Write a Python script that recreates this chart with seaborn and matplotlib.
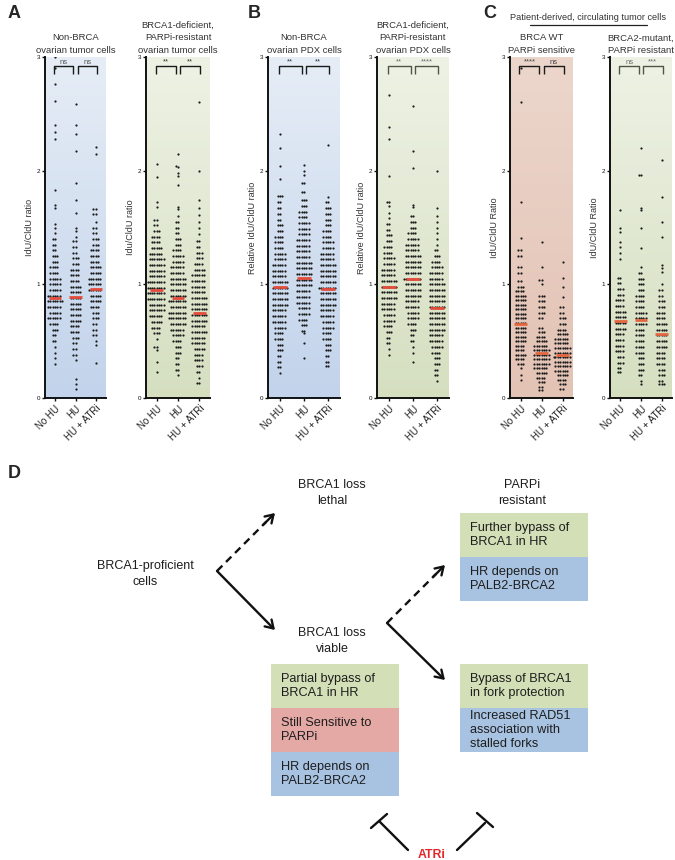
import numpy as np
import pandas as pd
import matplotlib
matplotlib.use("Agg")
import matplotlib.pyplot as plt
import seaborn as sns
from matplotlib.colors import LinearSegmentedColormap
from matplotlib.patches import Rectangle, FancyArrowPatch

CONDITIONS = ["No HU", "HU", "HU + ATRi"]

# ---- data: (IdU/CldU ratio, number of fibres at that value) ----
A1_NO_HU = [(3.00,1),(2.90,1),(2.76,1),(2.61,1),(2.40,1),(2.34,1),(2.28,1),(1.83,1),(1.70,1),(1.67,1),(1.53,1),(1.50,1),(1.45,1),(1.40,2),(1.35,2),(1.30,2),(1.25,3),(1.20,3),(1.15,4),(1.10,4),(1.05,5),(1.00,5),(0.95,5),(0.90,6),(0.85,7),(0.80,6),(0.75,5),(0.70,6),(0.65,4),(0.60,3),(0.55,2),(0.50,2),(0.45,1),(0.40,1),(0.35,1),(0.30,1)]
A1_HU = [(2.59,1),(2.40,1),(2.32,1),(2.17,1),(1.89,1),(1.74,1),(1.63,1),(1.50,1),(1.47,1),(1.42,1),(1.38,2),(1.33,2),(1.28,2),(1.23,3),(1.18,3),(1.13,4),(1.08,4),(1.03,4),(0.98,5),(0.93,5),(0.88,5),(0.83,5),(0.78,5),(0.73,5),(0.68,5),(0.63,4),(0.58,4),(0.53,3),(0.48,2),(0.43,2),(0.38,2),(0.33,1),(0.17,1),(0.12,1),(0.08,1)]
A1_HU_ATRI = [(2.21,1),(2.15,1),(1.66,2),(1.62,2),(1.55,1),(1.50,2),(1.45,2),(1.40,3),(1.35,3),(1.30,4),(1.25,4),(1.20,4),(1.15,5),(1.10,5),(1.05,6),(1.00,6),(0.95,6),(0.90,5),(0.85,5),(0.80,4),(0.75,3),(0.70,3),(0.65,2),(0.60,2),(0.55,2),(0.50,1),(0.47,1),(0.31,1)]
A1_MEANS = [0.88, 0.89, 0.96]
A1_SIG = ["ns", "ns"]

A2_NO_HU = [(2.06,1),(1.94,1),(1.72,1),(1.68,1),(1.57,2),(1.52,2),(1.47,3),(1.42,4),(1.37,4),(1.32,5),(1.27,6),(1.22,7),(1.17,7),(1.12,7),(1.07,7),(1.02,8),(0.97,8),(0.92,8),(0.87,8),(0.82,7),(0.77,7),(0.72,6),(0.67,5),(0.62,4),(0.57,3),(0.52,1),(0.45,2),(0.42,1),(0.32,1),(0.23,1)]
A2_HU = [(2.15,1),(2.04,1),(2.03,1),(1.98,1),(1.95,1),(1.87,1),(1.68,1),(1.66,1),(1.60,1),(1.55,2),(1.50,2),(1.45,2),(1.40,3),(1.35,3),(1.30,4),(1.25,5),(1.20,5),(1.15,6),(1.10,6),(1.05,7),(1.00,7),(0.95,7),(0.90,7),(0.85,8),(0.80,7),(0.75,8),(0.70,8),(0.65,7),(0.60,6),(0.55,5),(0.50,4),(0.45,3),(0.40,3),(0.35,2),(0.30,2),(0.25,2),(0.20,1)]
A2_HU_ATRI = [(2.60,1),(2.00,1),(1.74,1),(1.67,1),(1.61,1),(1.55,1),(1.50,1),(1.44,1),(1.38,2),(1.33,2),(1.28,3),(1.23,3),(1.18,4),(1.13,5),(1.08,6),(1.03,6),(0.98,6),(0.93,6),(0.88,7),(0.83,7),(0.78,7),(0.73,7),(0.68,7),(0.63,6),(0.58,7),(0.53,6),(0.48,6),(0.43,5),(0.38,4),(0.33,4),(0.28,3),(0.23,2),(0.18,1),(0.13,2)]
A2_MEANS = [0.95, 0.88, 0.75]
A2_SIG = ["**", "**"]

B1_NO_HU = [(2.32,1),(2.20,1),(2.04,1),(1.93,1),(1.78,3),(1.72,2),(1.67,2),(1.62,2),(1.57,2),(1.52,3),(1.47,3),(1.42,4),(1.37,4),(1.32,4),(1.27,5),(1.22,5),(1.17,6),(1.12,6),(1.07,6),(1.02,7),(0.97,7),(0.92,7),(0.87,7),(0.82,7),(0.77,6),(0.72,6),(0.67,6),(0.62,5),(0.57,4),(0.52,4),(0.47,3),(0.42,3),(0.37,2),(0.32,2),(0.27,2),(0.22,1)]
B1_HU = [(2.05,1),(2.00,1),(1.96,1),(1.89,2),(1.81,2),(1.74,3),(1.69,3),(1.64,4),(1.59,4),(1.54,5),(1.49,5),(1.44,5),(1.39,6),(1.34,6),(1.29,6),(1.24,6),(1.19,7),(1.14,7),(1.09,7),(1.04,7),(0.99,7),(0.94,6),(0.89,6),(0.84,6),(0.79,5),(0.74,5),(0.69,4),(0.64,3),(0.59,2),(0.57,1),(0.48,1),(0.35,1)]
B1_HU_ATRI = [(2.23,1),(1.77,1),(1.72,2),(1.67,3),(1.62,3),(1.57,3),(1.52,3),(1.47,4),(1.42,4),(1.37,5),(1.32,5),(1.27,6),(1.22,6),(1.17,7),(1.12,7),(1.07,7),(1.02,7),(0.97,8),(0.92,7),(0.87,7),(0.82,7),(0.77,6),(0.72,6),(0.67,5),(0.62,5),(0.57,4),(0.52,4),(0.47,3),(0.42,3),(0.37,2),(0.32,2),(0.28,2)]
B1_MEANS = [0.98, 1.06, 0.96]
B1_SIG = ["**", "**"]

B2_NO_HU = [(2.67,1),(2.38,1),(2.28,1),(1.95,1),(1.72,2),(1.69,1),(1.63,1),(1.58,1),(1.53,2),(1.48,2),(1.43,3),(1.38,3),(1.33,4),(1.28,4),(1.23,5),(1.18,5),(1.13,6),(1.08,6),(1.03,7),(0.98,7),(0.93,7),(0.88,7),(0.83,6),(0.78,6),(0.73,5),(0.68,5),(0.63,4),(0.58,3),(0.53,2),(0.48,2),(0.43,1),(0.38,1)]
B2_HU = [(2.57,1),(2.17,1),(2.02,1),(1.70,1),(1.68,1),(1.60,2),(1.55,3),(1.50,3),(1.45,4),(1.40,5),(1.35,6),(1.30,6),(1.25,7),(1.20,7),(1.15,7),(1.10,7),(1.05,8),(1.00,7),(0.95,7),(0.90,7),(0.85,6),(0.80,6),(0.75,5),(0.70,5),(0.65,4),(0.60,3),(0.55,2),(0.50,2),(0.45,1),(0.40,1),(0.32,1)]
B2_HU_ATRI = [(2.00,1),(1.67,1),(1.60,1),(1.55,1),(1.50,1),(1.45,1),(1.40,1),(1.35,1),(1.30,2),(1.25,3),(1.20,4),(1.15,5),(1.10,6),(1.05,6),(1.00,7),(0.95,7),(0.90,7),(0.85,7),(0.80,7),(0.75,7),(0.70,7),(0.65,7),(0.60,7),(0.55,6),(0.50,6),(0.45,5),(0.40,4),(0.35,3),(0.30,3),(0.25,2),(0.20,2),(0.15,1)]
B2_MEANS = [0.98, 1.05, 0.79]
B2_SIG = ["**", "****"]

C1_NO_HU = [(2.90,1),(2.60,1),(1.72,1),(1.41,1),(1.30,2),(1.25,2),(1.15,2),(1.10,2),(1.03,2),(0.98,3),(0.94,4),(0.90,5),(0.86,5),(0.82,5),(0.78,5),(0.74,5),(0.70,5),(0.66,5),(0.62,5),(0.58,5),(0.54,5),(0.50,5),(0.46,4),(0.42,4),(0.38,5),(0.34,4),(0.30,3),(0.26,1),(0.20,1),(0.16,1)]
C1_HU = [(1.37,1),(1.15,1),(1.04,2),(1.00,1),(0.90,3),(0.85,3),(0.80,3),(0.75,3),(0.70,2),(0.62,2),(0.58,3),(0.54,4),(0.50,5),(0.46,6),(0.42,7),(0.38,7),(0.34,7),(0.30,7),(0.26,6),(0.22,5),(0.18,4),(0.14,3),(0.10,2),(0.07,2)]
C1_HU_ATRI = [(1.20,1),(1.06,1),(0.98,1),(0.89,1),(0.80,2),(0.75,2),(0.70,3),(0.65,3),(0.60,4),(0.56,5),(0.52,6),(0.48,6),(0.44,7),(0.40,7),(0.36,8),(0.32,7),(0.28,7),(0.24,6),(0.20,5),(0.16,4),(0.12,3),(0.08,2)]
C1_MEANS = [0.65, 0.40, 0.38]
C1_SIG = ["****", "ns"]

C2_NO_HU = [(1.65,1),(1.50,1),(1.46,1),(1.37,1),(1.33,1),(1.28,1),(1.22,1),(1.06,2),(1.01,2),(0.96,3),(0.91,3),(0.86,4),(0.81,4),(0.76,5),(0.71,5),(0.66,5),(0.61,5),(0.56,4),(0.51,4),(0.46,4),(0.41,4),(0.36,3),(0.31,3),(0.26,2),(0.23,2)]
C2_HU = [(2.20,1),(1.96,2),(1.67,1),(1.65,1),(1.50,1),(1.32,1),(1.15,1),(1.10,2),(1.05,3),(1.00,3),(0.95,3),(0.90,4),(0.85,4),(0.80,4),(0.75,5),(0.70,5),(0.65,5),(0.60,4),(0.55,4),(0.50,4),(0.45,4),(0.40,4),(0.35,3),(0.30,3),(0.25,3),(0.20,2),(0.15,1),(0.12,1)]
C2_HU_ATRI = [(2.09,1),(1.77,1),(1.55,1),(1.42,1),(1.17,1),(1.14,1),(1.11,1),(1.00,1),(0.95,2),(0.90,2),(0.85,3),(0.80,3),(0.75,4),(0.70,4),(0.65,5),(0.60,5),(0.55,5),(0.50,5),(0.45,5),(0.40,4),(0.35,4),(0.30,4),(0.25,3),(0.20,3),(0.15,2),(0.12,3)]
C2_MEANS = [0.68, 0.69, 0.56]
C2_SIG = ["ns", "***"]

# ---- style ----
sns.set_theme(style="white")
plt.rcParams["font.family"] = ["Liberation Sans", "DejaVu Sans"]

W, H = 675, 860
fig = plt.figure(figsize=(W / 100, H / 100), dpi=100)

BLUE = ("#c2d3eb", "#e6edf6")
GREEN = ("#d5dfc0", "#eef2e5")
PINK = ("#e3c3b4", "#ecd6cc")
RED_AB = "#e34b3b"
RED_C = "#e4663f"


def expand(pairs):
    return np.repeat([v for v, _ in pairs], [c for _, c in pairs])


panels = [
    dict(px=(45, 106), groups=[A1_NO_HU, A1_HU, A1_HU_ATRI], means=A1_MEANS, sig=A1_SIG,
         title="Non-BRCA\novarian tumor cells", ylabel="IdU/CldU ratio", bg=BLUE,
         brc="#1a1a1a", txc="#555555", mc=RED_AB),
    dict(px=(146, 210), groups=[A2_NO_HU, A2_HU, A2_HU_ATRI], means=A2_MEANS, sig=A2_SIG,
         title="BRCA1-deficient,\nPARPi-resistant\novarian tumor cells", ylabel="Idu/CldU ratio", bg=GREEN,
         brc="#1a1a1a", txc="#333333", mc=RED_AB),
    dict(px=(268, 340), groups=[B1_NO_HU, B1_HU, B1_HU_ATRI], means=B1_MEANS, sig=B1_SIG,
         title="Non-BRCA\novarian PDX cells", ylabel="Relative IdU/CldU ratio", bg=BLUE,
         brc="#1a1a1a", txc="#333333", mc=RED_AB),
    dict(px=(377, 449), groups=[B2_NO_HU, B2_HU, B2_HU_ATRI], means=B2_MEANS, sig=B2_SIG,
         title="BRCA1-deficient,\nPARPi-resistant\novarian PDX cells", ylabel="Relative IdU/CldU ratio", bg=GREEN,
         brc="#4d5646", txc="#6a6a6a", mc=RED_AB),
    dict(px=(510, 573), groups=[C1_NO_HU, C1_HU, C1_HU_ATRI], means=C1_MEANS, sig=C1_SIG,
         title="BRCA WT\nPARPi sensitive", ylabel="IdU/CldU Ratio", bg=PINK,
         brc="#1a1a1a", txc="#444444", mc=RED_C),
    dict(px=(610, 672), groups=[C2_NO_HU, C2_HU, C2_HU_ATRI], means=C2_MEANS, sig=C2_SIG,
         title="BRCA2-mutant,\nPARPi resistant", ylabel="IdU/CldU Ratio", bg=GREEN,
         brc="#4d5646", txc="#6a6a6a", mc=RED_C),
]

Y0, Y3 = 398, 57
BRACKETS = [(-0.05, 0.9), (1.1, 2.05)]
for p in panels:
    x0, x1 = p["px"]
    ax = fig.add_axes([x0 / W, 1 - Y0 / H, (x1 - x0) / W, (Y0 - Y3) / H])
    vals = [expand(g) for g in p["groups"]]
    df = pd.DataFrame({
        "condition": np.concatenate([[c] * len(v) for c, v in zip(CONDITIONS, vals)]),
        "ratio": np.concatenate(vals),
    })
    cmap = LinearSegmentedColormap.from_list("bg", list(p["bg"]))
    ax.imshow(np.linspace(0, 1, 256).reshape(-1, 1), extent=(-0.5, 2.5, 0, 3), origin="lower",
              cmap=cmap, aspect="auto", zorder=0)
    sns.swarmplot(data=df, x="condition", y="ratio", order=CONDITIONS, color="#1c1c1c",
                  size=1.6, ax=ax, zorder=2, warn_thresh=1, linewidth=0)
    xs = np.arange(len(CONDITIONS))
    ax.hlines(p["means"], xs - 0.3, xs + 0.3, colors=p["mc"], lw=2.0, zorder=3)
    ax.set_xlim(-0.5, 2.5)
    ax.set_ylim(0, 3)
    for (xa, xb), s in zip(BRACKETS, p["sig"]):
        ax.plot([xa, xa, xb, xb], [2.85, 2.92, 2.92, 2.85], color=p["brc"], lw=1.0,
                clip_on=False, zorder=4, solid_capstyle="butt")
        ax.text((xa + xb) / 2, 2.925, s, ha="center", va="bottom", fontsize=5.5,
                color=p["txc"], clip_on=False)
    for side in ("top", "right"):
        ax.spines[side].set_visible(False)
    for side in ("left", "bottom"):
        ax.spines[side].set_linewidth(1.4)
        ax.spines[side].set_color("#111111")
    ax.set_yticks([0, 1, 2, 3])
    ax.tick_params(axis="y", left=True, length=2.5, width=1, labelsize=4.5, pad=1, colors="#111111")
    ax.tick_params(axis="x", bottom=True, length=2.5, width=1, labelsize=7.0, pad=1.5, colors="#111111")
    ax.set_xticks(xs, CONDITIONS, rotation=45, ha="right", rotation_mode="anchor")
    for lab in ax.get_xticklabels():
        lab.set_color("#222222")
    ax.set_xlabel("")
    ax.set_ylabel(p["ylabel"], fontsize=6.5, labelpad=2, color="#333333")
    ax.set_title(p["title"], fontsize=6.8, pad=3, color="#333333", linespacing=1.5)

# panel letters and group header
for letter, (lx, ly) in {"A": (8, 13), "B": (248, 13), "C": (483, 14), "D": (8, 474)}.items():
    fig.text(lx / W, 1 - ly / H, letter, fontsize=13, fontweight="bold", va="center", ha="left")

ov = fig.add_axes([0, 0, 1, 1])
ov.set_xlim(0, W)
ov.set_ylim(H, 0)
ov.axis("off")

ov.text(588, 17, "Patient-derived, circulating tumor cells", ha="center", va="center",
        fontsize=6.6, color="#333333")
ov.plot([530, 647], [25, 25], color="#222222", lw=0.9)

# ---- panel D: model diagram ----
TXT = "#1e1e1e"
LBL = dict(ha="center", va="center", fontsize=9.0, color=TXT, linespacing=1.55)
ov.text(332, 493, "BRCA1 loss\nlethal", **LBL)
ov.text(522, 493, "PARPi\nresistant", **LBL)
ov.text(145, 574, "BRCA1-proficient\ncells", **LBL)
ov.text(332, 641, "BRCA1 loss\nviable", **LBL)

BOX_GREEN, BOX_RED, BOX_BLUE = "#d3e0b7", "#e4a8a5", "#a8c3e2"
boxes = [
    (460, 513, 128, 44, BOX_GREEN, "Further bypass of\nBRCA1 in HR"),
    (460, 557, 128, 44, BOX_BLUE, "HR depends on\nPALB2-BRCA2"),
    (271, 664, 128, 44, BOX_GREEN, "Partial bypass of\nBRCA1 in HR"),
    (271, 708, 128, 44, BOX_RED, "Still Sensitive to\nPARPi"),
    (271, 752, 128, 44, BOX_BLUE, "HR depends on\nPALB2-BRCA2"),
    (460, 664, 128, 44, BOX_GREEN, "Bypass of BRCA1\nin fork protection"),
    (460, 708, 128, 44, BOX_BLUE, "Increased RAD51\nassociation with\nstalled forks"),
]
for bx, by, bw, bh, col, txt in boxes:
    ov.add_patch(Rectangle((bx, by), bw, bh, facecolor=col, edgecolor="none"))
    ov.text(bx + 10, by + bh / 2, txt, ha="left", va="center", fontsize=9.2, color=TXT, linespacing=1.25)

HEAD = "->,head_length=0.55,head_width=0.35"


def arrow(p0, p1, dashed):
    if dashed:
        v = np.subtract(p1, p0)
        pm = np.add(p0, v * 0.85)
        ov.plot([p0[0], pm[0]], [p0[1], pm[1]], color="#111111", lw=1.7, linestyle=(0, (3.2, 2.2)),
                solid_capstyle="butt")
        ov.add_patch(FancyArrowPatch(tuple(np.add(p0, v * 0.8)), p1, arrowstyle=HEAD,
                                     mutation_scale=10, lw=1.7, color="#111111", shrinkA=0, shrinkB=0))
    else:
        ov.add_patch(FancyArrowPatch(p0, p1, arrowstyle=HEAD,
                                     mutation_scale=10, lw=1.7, color="#111111", shrinkA=0, shrinkB=0))


arrow((217, 571), (275, 513), True)
arrow((217, 571), (275, 630), False)
arrow((387, 623), (445, 565), True)
arrow((387, 623), (445, 680), False)

# inhibition (ATRi) blunt arrows
ov.plot([408, 380], [850, 822], color="#111111", lw=1.7)
ov.plot([371, 387], [828, 814], color="#111111", lw=1.7)
ov.plot([457, 485], [850, 823], color="#111111", lw=1.7)
ov.plot([477, 493], [813, 827], color="#111111", lw=1.7)
ov.text(432, 855, "ATRi", ha="center", va="center", fontsize=8.8, fontweight="bold", color="#e3262a")

fig.savefig("out.png", dpi=100)
